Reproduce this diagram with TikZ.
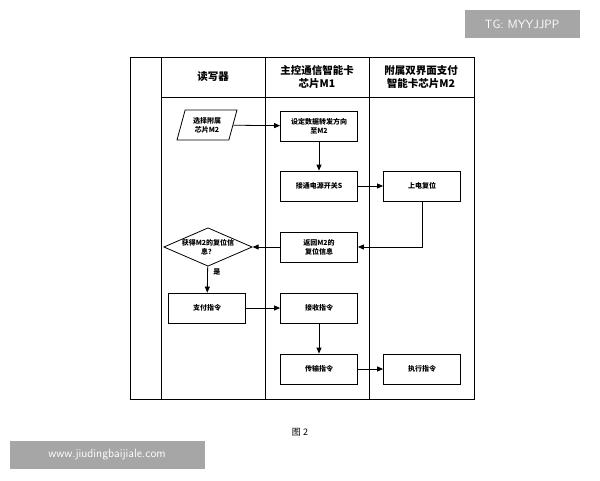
\documentclass[tikz,border=0pt]{standalone}
\usepackage{fontspec}
\newfontfamily\cjk{Noto Sans CJK SC}
\usetikzlibrary{shapes.geometric,arrows.meta}
\tikzset{
	stepbox/.style={draw,thick,minimum width=77pt,minimum height=30pt,align=center,font=\cjk\bfseries\fontsize{7}{9}\selectfont},
	lane/.style={draw,thick},
	flow/.style={-{Triangle[length=6pt,width=5pt]},thick}
}
\begin{document}
\begin{tikzpicture}[x=1pt,y=-1pt]
			\useasboundingbox (0,0) rectangle (600,480);
			% Frame and lanes
			\draw[lane] (130,57) rectangle (474,399);
			\draw[lane] (161,57) -- (161,399);
			\draw[lane] (265,57) -- (265,399);
			\draw[lane] (369,57) -- (369,399);
			\draw[lane] (161,97) -- (474,97);
			\node[font=\cjk\bfseries\fontsize{10.5}{13}\selectfont] (h1) at (213,77) {读写器};
			\node[font=\cjk\bfseries\fontsize{10.5}{13}\selectfont,align=center] (h2) at (317,77) {主控通信智能卡\\芯片M1};
			\node[font=\cjk\bfseries\fontsize{10.5}{13}\selectfont,align=center] (h3) at (421,77) {附属双界面支付\\智能卡芯片M2};
			
			% Steps
			\node[stepbox,trapezium,trapezium left angle=70,trapezium right angle=110,minimum width=60pt,trapezium stretches body] (sel) at (207,125) {选择附属\\芯片M2};
			\node[stepbox] (dir) at (319,126) {设定数据转发方向\\至M2};
			\node[stepbox] (sw) at (319,186) {接通电源开关S};
			\node[stepbox] (rst) at (422,186) {上电复位};
			\node[stepbox] (ret) at (319,247) {返回M2的\\复位信息};
			\node[stepbox,diamond,aspect=2.3,inner sep=0pt,minimum width=83pt,minimum height=36pt] (chk) at (208,247) {获得M2的复位信\\息？};
			\node[stepbox] (pay) at (207,308) {支付指令};
			\node[stepbox] (rcv) at (319,308) {接收指令};
			\node[stepbox] (snd) at (319,369) {传输指令};
			\node[stepbox] (exe) at (422,369) {执行指令};
			
			% Arrows
			\draw[flow] (sel) -- (dir);
			\draw[flow] (dir) -- (sw);
			\draw[flow] (sw) -- (rst);
			\draw[flow] (rst.south) |- (ret.east);
			\draw[flow] (ret) -- (chk);
			\draw[flow] (chk) -- node[right=2pt,pos=0.2,font=\cjk\bfseries\fontsize{7}{9}\selectfont] {是} (pay);
			\draw[flow] (pay) -- (rcv);
			\draw[flow] (rcv) -- (snd);
			\draw[flow] (snd) -- (exe);
			
			% Caption and marks
			\node[font=\cjk\fontsize{9}{11}\selectfont] (cap) at (300,432) {图 2};
			\node[fill=gray!70,text=white,font=\sffamily\fontsize{12}{14}\selectfont,minimum width=115pt,minimum height=28pt] (tg) at (522,24) {TG: MYYJJPP};
			\node[fill=gray!70,text=white,font=\sffamily\fontsize{12}{14}\selectfont,minimum width=195pt,minimum height=28pt] (web) at (107,455) {www.jiudingbaijiale.com};
		\end{tikzpicture}
\end{document}
